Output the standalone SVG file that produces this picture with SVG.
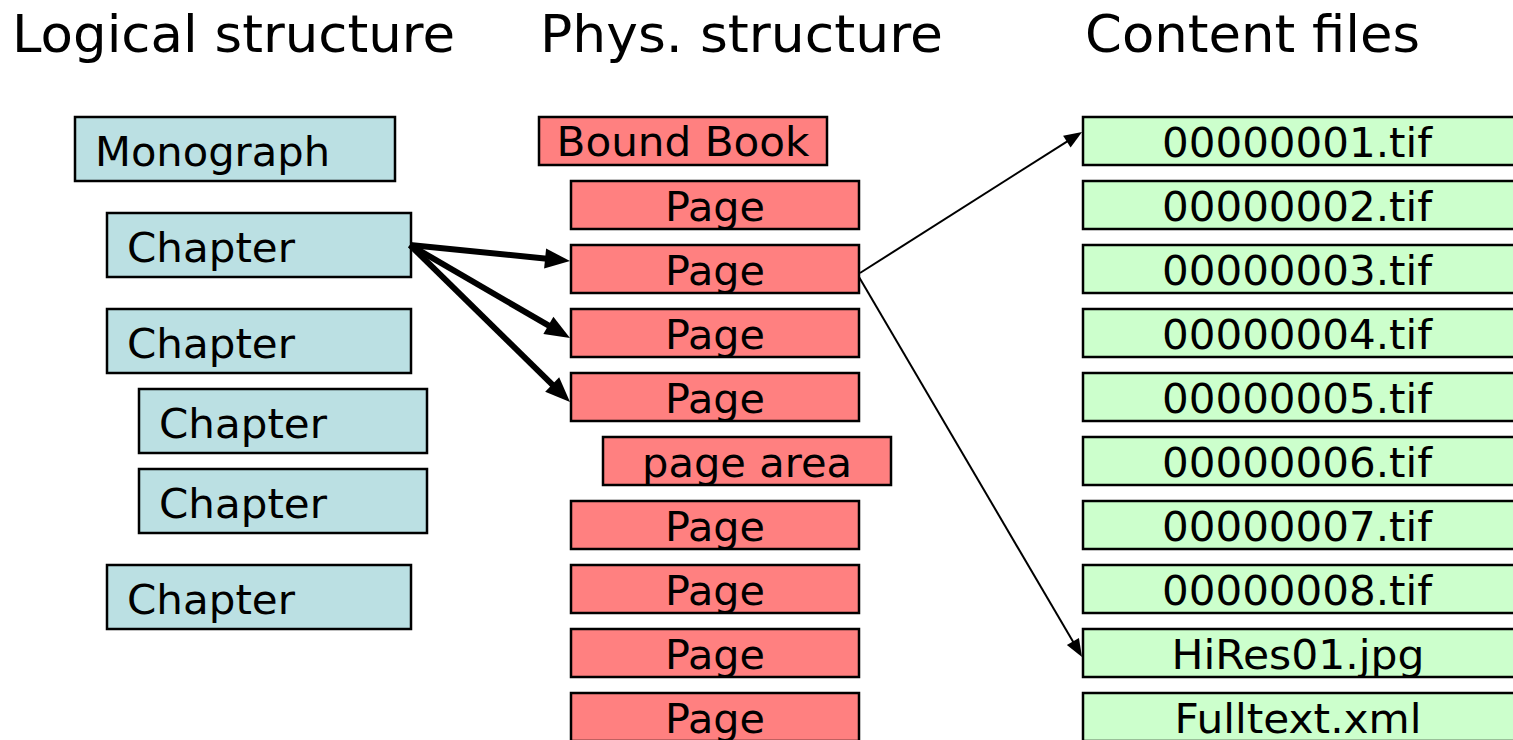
<svg xmlns="http://www.w3.org/2000/svg" width="1513" height="740" viewBox="0 0 1513 740">
  <style>
    .hdr { font-family: "DejaVu Sans", Verdana, sans-serif; font-size: 51px; fill: #000; }
    .lbl { font-family: "DejaVu Sans", Verdana, sans-serif; font-size: 41px; fill: #000; }
    .mid { text-anchor: middle; }
    .box { stroke: #000; stroke-width: 2.5; }
    .logical { fill: #BBE0E3; }
    .physical { fill: #FF8080; }
    .file { fill: #CCFFCC; }
    .thick { stroke: #000; stroke-width: 6; fill: none; marker-end: url(#headBig); }
    .thin { stroke: #000; stroke-width: 2; fill: none; marker-end: url(#headSmall); }
  </style>
  <defs>
    <marker id="headBig" markerUnits="userSpaceOnUse" markerWidth="30" markerHeight="24" refX="2" refY="10" orient="auto" overflow="visible">
      <path d="M0,0 L25,10 L0,20 z" fill="#000"/>
    </marker>
    <marker id="headSmall" markerUnits="userSpaceOnUse" markerWidth="22" markerHeight="18" refX="1" refY="7" orient="auto" overflow="visible">
      <path d="M0,0 L18,7 L0,14 z" fill="#000"/>
    </marker>
  </defs>

  <rect width="1513" height="740" fill="#fff"/>

  <!-- column headings -->
  <g id="headings">
    <text class="hdr" x="12" y="52" textLength="443" lengthAdjust="spacingAndGlyphs">Logical structure</text>
    <text class="hdr" x="540" y="52" textLength="403" lengthAdjust="spacingAndGlyphs">Phys. structure</text>
    <text class="hdr" x="1085" y="52" textLength="335" lengthAdjust="spacingAndGlyphs">Content files</text>
  </g>

  <!-- logical structure -->
  <g id="monograph">
    <rect class="box logical" x="75" y="117" width="320" height="64"/>
    <text class="lbl" x="95" y="166" textLength="235" lengthAdjust="spacingAndGlyphs">Monograph</text>
  </g>
  <g id="chapter1">
    <rect class="box logical" x="107" y="213" width="304" height="64"/>
    <text class="lbl" x="127" y="262" textLength="168" lengthAdjust="spacingAndGlyphs">Chapter</text>
  </g>
  <g id="chapter2">
    <rect class="box logical" x="107" y="309" width="304" height="64"/>
    <text class="lbl" x="127" y="358" textLength="168" lengthAdjust="spacingAndGlyphs">Chapter</text>
  </g>
  <g id="chapter3">
    <rect class="box logical" x="139" y="389" width="288" height="64"/>
    <text class="lbl" x="159" y="438" textLength="168" lengthAdjust="spacingAndGlyphs">Chapter</text>
  </g>
  <g id="chapter4">
    <rect class="box logical" x="139" y="469" width="288" height="64"/>
    <text class="lbl" x="159" y="518" textLength="168" lengthAdjust="spacingAndGlyphs">Chapter</text>
  </g>
  <g id="chapter5">
    <rect class="box logical" x="107" y="565" width="304" height="64"/>
    <text class="lbl" x="127" y="614" textLength="168" lengthAdjust="spacingAndGlyphs">Chapter</text>
  </g>

  <!-- physical structure -->
  <g id="bound-book">
    <rect class="box physical" x="539" y="117" width="288" height="48"/>
    <text class="lbl mid" x="683" y="156" textLength="253" lengthAdjust="spacingAndGlyphs">Bound Book</text>
  </g>
  <g id="page1">
    <rect class="box physical" x="571" y="181" width="288" height="48"/>
    <text class="lbl mid" x="715" y="221" textLength="100" lengthAdjust="spacingAndGlyphs">Page</text>
  </g>
  <g id="page2">
    <rect class="box physical" x="571" y="245" width="288" height="48"/>
    <text class="lbl mid" x="715" y="285" textLength="100" lengthAdjust="spacingAndGlyphs">Page</text>
  </g>
  <g id="page3">
    <rect class="box physical" x="571" y="309" width="288" height="48"/>
    <text class="lbl mid" x="715" y="349" textLength="100" lengthAdjust="spacingAndGlyphs">Page</text>
  </g>
  <g id="page4">
    <rect class="box physical" x="571" y="373" width="288" height="48"/>
    <text class="lbl mid" x="715" y="413" textLength="100" lengthAdjust="spacingAndGlyphs">Page</text>
  </g>
  <g id="page-area">
    <rect class="box physical" x="603" y="437" width="288" height="48"/>
    <text class="lbl mid" x="747" y="477" textLength="210" lengthAdjust="spacingAndGlyphs">page area</text>
  </g>
  <g id="page5">
    <rect class="box physical" x="571" y="501" width="288" height="48"/>
    <text class="lbl mid" x="715" y="541" textLength="100" lengthAdjust="spacingAndGlyphs">Page</text>
  </g>
  <g id="page6">
    <rect class="box physical" x="571" y="565" width="288" height="48"/>
    <text class="lbl mid" x="715" y="605" textLength="100" lengthAdjust="spacingAndGlyphs">Page</text>
  </g>
  <g id="page7">
    <rect class="box physical" x="571" y="629" width="288" height="48"/>
    <text class="lbl mid" x="715" y="669" textLength="100" lengthAdjust="spacingAndGlyphs">Page</text>
  </g>
  <g id="page8">
    <rect class="box physical" x="571" y="693" width="288" height="48"/>
    <text class="lbl mid" x="715" y="733" textLength="100" lengthAdjust="spacingAndGlyphs">Page</text>
  </g>

  <!-- content files -->
  <g id="file1">
    <rect class="box file" x="1083" y="117" width="440" height="48"/>
    <text class="lbl mid" x="1297" y="157" textLength="270" lengthAdjust="spacingAndGlyphs">00000001.tif</text>
  </g>
  <g id="file2">
    <rect class="box file" x="1083" y="181" width="440" height="48"/>
    <text class="lbl mid" x="1297" y="221" textLength="270" lengthAdjust="spacingAndGlyphs">00000002.tif</text>
  </g>
  <g id="file3">
    <rect class="box file" x="1083" y="245" width="440" height="48"/>
    <text class="lbl mid" x="1297" y="285" textLength="270" lengthAdjust="spacingAndGlyphs">00000003.tif</text>
  </g>
  <g id="file4">
    <rect class="box file" x="1083" y="309" width="440" height="48"/>
    <text class="lbl mid" x="1297" y="349" textLength="270" lengthAdjust="spacingAndGlyphs">00000004.tif</text>
  </g>
  <g id="file5">
    <rect class="box file" x="1083" y="373" width="440" height="48"/>
    <text class="lbl mid" x="1297" y="413" textLength="270" lengthAdjust="spacingAndGlyphs">00000005.tif</text>
  </g>
  <g id="file6">
    <rect class="box file" x="1083" y="437" width="440" height="48"/>
    <text class="lbl mid" x="1297" y="477" textLength="270" lengthAdjust="spacingAndGlyphs">00000006.tif</text>
  </g>
  <g id="file7">
    <rect class="box file" x="1083" y="501" width="440" height="48"/>
    <text class="lbl mid" x="1297" y="541" textLength="270" lengthAdjust="spacingAndGlyphs">00000007.tif</text>
  </g>
  <g id="file8">
    <rect class="box file" x="1083" y="565" width="440" height="48"/>
    <text class="lbl mid" x="1297" y="605" textLength="270" lengthAdjust="spacingAndGlyphs">00000008.tif</text>
  </g>
  <g id="hires">
    <rect class="box file" x="1083" y="629" width="440" height="48"/>
    <text class="lbl mid" x="1298" y="669" textLength="253" lengthAdjust="spacingAndGlyphs">HiRes01.jpg</text>
  </g>
  <g id="fulltext">
    <rect class="box file" x="1083" y="693" width="440" height="48"/>
    <text class="lbl mid" x="1298" y="733" textLength="247" lengthAdjust="spacingAndGlyphs">Fulltext.xml</text>
  </g>

  <!-- connectors: lines stop at the arrowhead base, the heads reach the box edges -->
  <g id="connectors">
    <line class="thick" x1="410" y1="245" x2="547.1" y2="258.7"/>
    <line class="thick" x1="410" y1="245" x2="550.1" y2="326.4"/>
    <line class="thick" x1="410" y1="245" x2="553.6" y2="385.9"/>
    <line class="thin" x1="860" y1="273" x2="1067.7" y2="141.1"/>
    <line class="thin" x1="859" y1="277" x2="1073.4" y2="642.3"/>
  </g>
</svg>
